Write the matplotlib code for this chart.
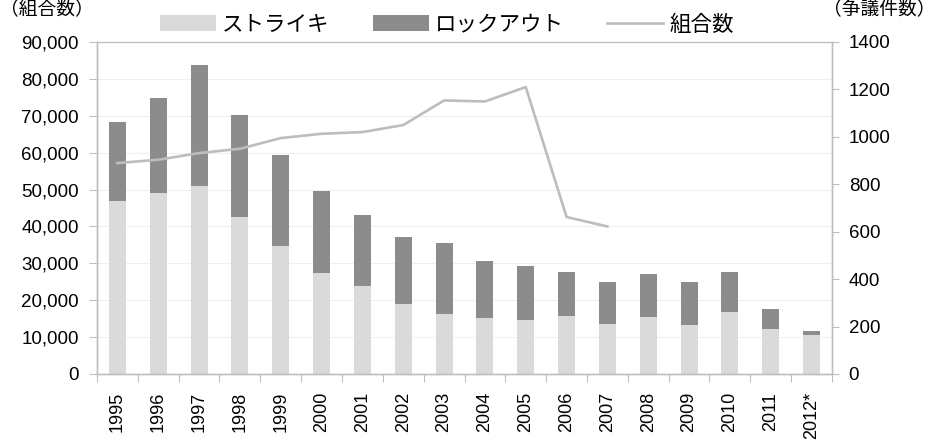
import matplotlib
matplotlib.use("Agg")
import matplotlib.pyplot as plt
import numpy as np
from matplotlib.ticker import FuncFormatter

plt.rcParams['font.family'] = ['Liberation Sans', 'Noto Sans CJK JP', 'DejaVu Sans']

years = ["1995", "1996", "1997", "1998", "1999", "2000", "2001", "2002", "2003",
         "2004", "2005", "2006", "2007", "2008", "2009", "2010", "2011", "2012*"]
strike = [731, 763, 791, 664, 541, 426, 372, 295, 254,
          236, 229, 244, 209, 242, 206, 260, 191, 165]
total = [1062, 1164, 1301, 1093, 924, 770, 672, 576, 551,
         476, 457, 431, 389, 420, 390, 430, 272, 181]
lockout = [t - s for t, s in zip(total, strike)]
unions = [57180, 58080, 59890, 61060, 63950, 65120, 65580, 67480, 74150,
          73880, 77780, 42550, 40000]

c_strike = "#dadada"
c_lock = "#8c8c8c"
c_line = "#bdbdbd"
c_axis = "#bfbfbf"

fig = plt.figure(figsize=(9.42, 4.45), dpi=100)
ax1 = fig.add_axes([97/942, 1-374/445, (832-97)/942, (374-42)/445])
ax2 = ax1.twinx()

x = np.arange(len(years))
bw = 0.42
b1 = ax2.bar(x, strike, bw, color=c_strike, label="ストライキ", zorder=2)
b2 = ax2.bar(x, lockout, bw, bottom=strike, color=c_lock, label="ロックアウト", zorder=2)
ln, = ax1.plot(x[:len(unions)], unions, color=c_line, lw=1.9, label="組合数", zorder=3)

ax1.set_zorder(ax2.get_zorder() + 1)
ax1.patch.set_visible(False)

ax1.set_ylim(0, 90000)
ax1.set_yticks(np.arange(0, 90001, 10000))
ax1.yaxis.set_major_formatter(FuncFormatter(lambda v, p: f"{int(v):,}"))
ax2.set_ylim(0, 1400)
ax2.set_yticks(np.arange(0, 1401, 200))
ax2.set_yticks([1400 * k / 9 for k in range(1, 9)], minor=True)
ax2.tick_params(axis='y', which='minor', length=0)
ax2.grid(axis='y', which='minor', color="#efefef", lw=0.8, zorder=0)

ax1.set_xlim(-0.5, len(years) - 0.5)
ax1.set_xticks(np.arange(-0.5, len(years), 1.0))
ax1.set_xticklabels([])
ax1.set_xticks(x, minor=True)
ax1.set_xticklabels(years, minor=True, rotation=90)
ax1.tick_params(axis='x', which='minor', length=0, labelsize=13, pad=13)
ax1.tick_params(axis='x', which='major', length=6, color=c_axis)

ax1.tick_params(axis='y', labelsize=13.5, length=6, color=c_axis, pad=7)
ax2.tick_params(axis='y', which='major', labelsize=13.5, length=5, color=c_axis, pad=7)

for ax in (ax1, ax2):
    for s in ax.spines.values():
        s.set_color(c_axis)
        s.set_linewidth(1.0)
ax2.spines['top'].set_visible(False)

fig.text(0.0, 1.0, "（組合数）", fontsize=13.5, ha='left', va='top')
fig.text(1.0 - 6/942, 1.0, "（争議件数）", fontsize=13.5, ha='right', va='top')

leg = fig.legend([b1, b2, ln], ["ストライキ", "ロックアウト", "組合数"],
                 loc='center', bbox_to_anchor=(447/942, 1 - 25/445), ncol=3,
                 frameon=True, fontsize=15.5, handlelength=2.6, handleheight=0.75,
                 handletextpad=0.3, columnspacing=2.0, borderpad=0.25)
leg.get_frame().set_edgecolor('none')
leg.get_frame().set_facecolor('white')
leg.get_frame().set_alpha(1.0)

fig.savefig("out.png", dpi=100)
